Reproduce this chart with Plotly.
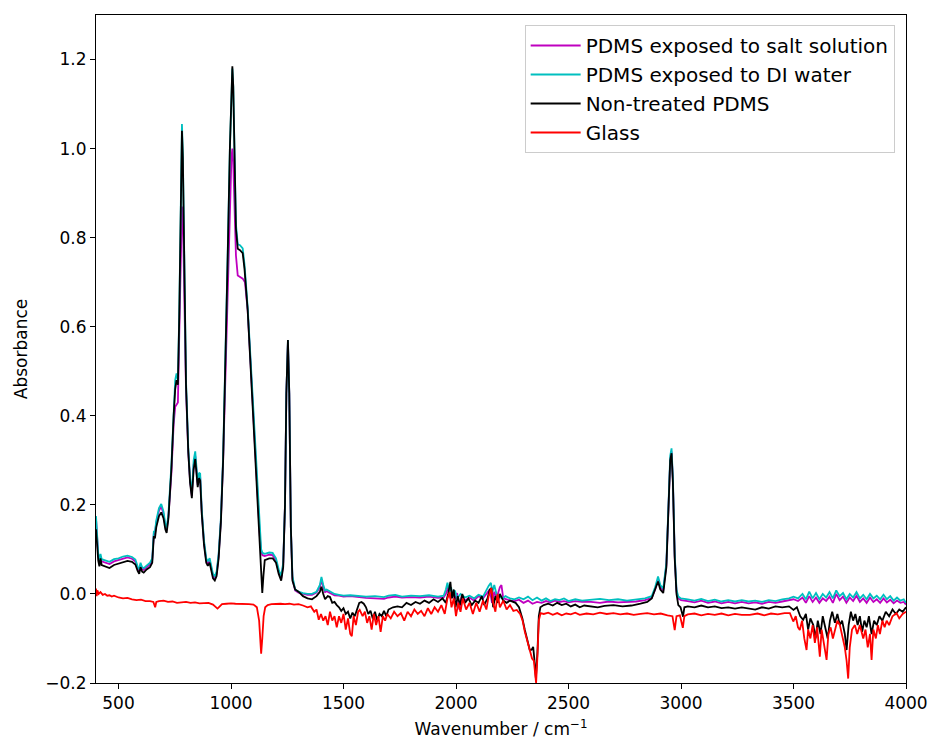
import plotly.graph_objects as go

# ---------------- data ----------------
salt_x = [400,405,410,415,420,425,440,460,480,500,520,540,560,575,585,592,598,605,612,625,640,650,657,662,668,680,690,700,708,714,722,735,745,752,758,764,770,776,782,786,792,800,810,818,826,834,841,847,852,858,863,870,880,890,897,905,912,920,928,936,945,955,965,975,985,995,1002,1006,1010,1015,1022,1030,1040,1052,1062,1074,1090,1105,1120,1128,1134,1140,1150,1170,1185,1200,1212,1223,1232,1240,1246,1253,1259,1266,1273,1285,1300,1320,1340,1360,1380,1395,1402,1410,1418,1425,1440,1460,1480,1500,1530,1560,1600,1640,1680,1700,1730,1760,1800,1840,1880,1920,1945,1955,1965,1975,1985,1995,2005,2015,2025,2040,2060,2080,2100,2120,2135,2150,2160,2170,2180,2195,2202,2210,2225,2240,2260,2280,2300,2320,2340,2360,2380,2400,2420,2440,2460,2480,2500,2530,2560,2600,2640,2680,2720,2760,2800,2840,2870,2885,2898,2908,2921,2935,2945,2952,2958,2964,2972,2980,2988,3000,3030,3060,3090,3120,3150,3180,3210,3240,3270,3300,3330,3360,3390,3420,3450,3480,3500,3520,3540,3555,3570,3585,3600,3615,3630,3645,3660,3675,3690,3705,3720,3735,3750,3765,3780,3795,3810,3825,3840,3855,3870,3885,3900,3915,3930,3945,3960,3975,3990,4000]
salt_y = [0.17,0.115,0.085,0.07,0.085,0.073,0.07,0.067,0.073,0.076,0.08,0.082,0.079,0.073,0.058,0.051,0.066,0.056,0.054,0.06,0.066,0.076,0.135,0.135,0.16,0.187,0.196,0.18,0.152,0.143,0.175,0.27,0.38,0.42,0.425,0.43,0.58,0.78,0.87,0.85,0.68,0.46,0.32,0.255,0.22,0.29,0.31,0.268,0.245,0.265,0.262,0.185,0.115,0.075,0.068,0.075,0.06,0.04,0.035,0.045,0.085,0.165,0.3,0.48,0.7,0.9,0.98,1.0,0.97,0.88,0.76,0.715,0.712,0.708,0.7,0.638,0.49,0.342,0.195,0.13,0.095,0.087,0.085,0.088,0.087,0.075,0.05,0.035,0.065,0.2,0.45,0.565,0.45,0.15,0.035,0.008,0.003,0.0,-0.002,-0.002,0.003,0.015,0.032,0.015,0.004,0.006,0.002,-0.003,-0.004,-0.006,-0.005,-0.007,-0.009,-0.01,-0.011,-0.008,-0.006,-0.008,-0.007,-0.008,-0.006,-0.009,-0.008,0.0,0.015,-0.01,0.005,-0.012,0.002,-0.035,-0.005,-0.015,-0.008,-0.015,-0.005,-0.01,0.0,0.01,-0.02,0.005,-0.01,0.015,0.02,-0.01,-0.012,-0.015,-0.016,-0.013,-0.02,-0.015,-0.022,-0.018,-0.02,-0.016,-0.019,-0.015,-0.018,-0.016,-0.019,-0.016,-0.018,-0.018,-0.02,-0.017,-0.019,-0.018,-0.017,-0.014,-0.009,0.01,0.033,0.015,0.008,0.065,0.2,0.3,0.32,0.255,0.085,0.005,-0.01,-0.014,-0.016,-0.019,-0.015,-0.02,-0.017,-0.021,-0.018,-0.021,-0.018,-0.021,-0.019,-0.022,-0.018,-0.02,-0.017,-0.015,-0.012,-0.016,-0.008,-0.02,-0.005,-0.018,-0.008,-0.02,-0.01,-0.016,-0.006,-0.02,0.0,-0.014,-0.006,-0.02,-0.008,-0.016,-0.004,-0.018,-0.01,-0.02,-0.008,-0.018,-0.012,-0.02,-0.01,-0.019,-0.013,-0.021,-0.015,-0.02,-0.018,-0.024]

di_x = [400,405,410,415,420,425,440,460,480,500,520,540,560,575,585,592,598,605,612,625,640,650,657,662,668,680,690,700,708,714,722,735,745,752,758,764,770,776,782,786,792,800,810,818,826,834,841,847,852,858,863,870,880,890,897,905,912,920,928,936,945,955,965,975,985,995,1002,1006,1010,1015,1022,1030,1040,1052,1060,1074,1090,1105,1120,1128,1134,1140,1150,1170,1185,1200,1212,1223,1232,1240,1246,1253,1259,1266,1273,1285,1300,1320,1340,1360,1380,1395,1402,1410,1418,1425,1440,1460,1480,1500,1530,1560,1600,1640,1680,1700,1730,1760,1800,1840,1880,1920,1945,1955,1962,1970,1978,1985,1995,2005,2020,2040,2060,2080,2100,2120,2135,2145,2155,2162,2170,2180,2190,2205,2220,2240,2260,2280,2300,2320,2340,2360,2380,2400,2420,2440,2460,2480,2500,2530,2560,2600,2640,2680,2720,2760,2800,2840,2870,2885,2898,2908,2921,2935,2945,2952,2958,2964,2972,2980,2988,3000,3030,3060,3090,3120,3150,3180,3210,3240,3270,3300,3330,3360,3390,3420,3450,3480,3500,3520,3540,3555,3570,3585,3600,3615,3630,3645,3660,3675,3690,3705,3720,3735,3750,3765,3780,3795,3810,3825,3840,3855,3870,3885,3900,3915,3930,3945,3960,3975,3990,4000]
di_y = [0.175,0.12,0.09,0.075,0.09,0.078,0.075,0.072,0.078,0.08,0.084,0.086,0.083,0.077,0.062,0.055,0.07,0.06,0.058,0.064,0.07,0.08,0.14,0.14,0.165,0.193,0.202,0.185,0.157,0.148,0.18,0.29,0.41,0.48,0.495,0.48,0.63,0.89,1.055,0.99,0.73,0.48,0.33,0.26,0.225,0.3,0.32,0.275,0.25,0.272,0.27,0.19,0.12,0.08,0.073,0.08,0.065,0.045,0.04,0.05,0.09,0.17,0.31,0.51,0.76,1.0,1.15,1.18,1.14,1.0,0.83,0.785,0.783,0.776,0.74,0.645,0.495,0.345,0.2,0.14,0.1,0.092,0.09,0.093,0.092,0.08,0.055,0.04,0.07,0.2,0.45,0.57,0.45,0.15,0.04,0.01,0.005,0.002,0.0,0.0,0.005,0.02,0.038,0.02,0.008,0.01,0.005,0.0,-0.002,-0.004,-0.003,-0.005,-0.006,-0.005,-0.007,-0.004,-0.002,-0.006,-0.004,-0.005,-0.003,-0.006,-0.004,0.01,0.025,0.005,0.015,-0.005,0.008,-0.01,0.0,-0.008,-0.004,-0.01,-0.002,-0.006,0.01,0.018,0.025,0.005,0.02,0.0,-0.005,-0.01,-0.005,-0.01,-0.012,-0.008,-0.012,-0.006,-0.014,-0.008,-0.015,-0.01,-0.016,-0.012,-0.014,-0.01,-0.016,-0.012,-0.015,-0.013,-0.011,-0.014,-0.012,-0.015,-0.012,-0.01,-0.005,0.015,0.039,0.02,0.012,0.07,0.21,0.31,0.327,0.26,0.09,0.01,-0.006,-0.01,-0.012,-0.015,-0.011,-0.016,-0.013,-0.017,-0.014,-0.017,-0.014,-0.017,-0.015,-0.018,-0.014,-0.016,-0.012,-0.01,-0.006,-0.01,0.0,-0.012,0.005,-0.01,0.002,-0.012,0.0,-0.008,0.004,-0.01,0.008,-0.005,0.002,-0.012,0.0,-0.008,0.004,-0.01,-0.002,-0.012,0.0,-0.01,-0.004,-0.012,-0.002,-0.012,-0.005,-0.015,-0.008,-0.015,-0.012,-0.02]

pdms_x = [400,405,410,415,420,425,440,460,480,500,520,540,560,575,585,592,598,605,612,625,640,650,657,662,668,680,690,700,708,714,722,735,745,752,758,764,770,776,782,786,792,800,810,818,826,834,841,847,852,858,863,870,880,890,897,905,912,920,928,936,945,955,965,975,985,995,1002,1006,1010,1015,1022,1030,1040,1052,1060,1074,1090,1105,1120,1128,1134,1139,1144,1150,1170,1185,1200,1212,1223,1232,1240,1246,1253,1259,1266,1273,1285,1300,1320,1340,1360,1380,1395,1402,1410,1418,1430,1440,1450,1460,1470,1480,1490,1500,1510,1520,1530,1540,1550,1560,1570,1580,1590,1600,1610,1620,1630,1640,1650,1660,1670,1680,1690,1700,1720,1740,1760,1780,1800,1820,1840,1860,1880,1900,1920,1940,1955,1965,1975,1982,1990,1998,2008,2018,2028,2040,2055,2070,2085,2100,2115,2125,2140,2150,2157,2165,2175,2185,2195,2210,2225,2240,2255,2265,2280,2295,2306,2318,2328,2336,2343,2349,2355,2362,2368,2375,2390,2410,2430,2450,2470,2490,2510,2530,2550,2570,2600,2630,2660,2700,2740,2780,2820,2850,2870,2885,2898,2908,2921,2935,2945,2952,2958,2964,2972,2980,2988,2998,3009,3015,3030,3060,3090,3120,3150,3180,3210,3240,3270,3300,3330,3360,3390,3420,3450,3480,3500,3515,3530,3543,3555,3565,3575,3588,3598,3608,3620,3630,3640,3652,3662,3672,3684,3695,3706,3716,3728,3736,3745,3755,3765,3775,3785,3795,3805,3815,3825,3835,3847,3858,3870,3882,3895,3910,3925,3940,3955,3970,3985,4000]
pdms_y = [0.145,0.1,0.075,0.062,0.08,0.065,0.062,0.058,0.065,0.068,0.072,0.074,0.072,0.066,0.052,0.045,0.06,0.05,0.048,0.055,0.06,0.07,0.13,0.125,0.15,0.175,0.183,0.17,0.145,0.137,0.17,0.28,0.4,0.46,0.48,0.47,0.62,0.88,1.04,0.98,0.72,0.47,0.32,0.25,0.215,0.28,0.303,0.26,0.24,0.26,0.255,0.18,0.11,0.07,0.063,0.07,0.055,0.035,0.03,0.04,0.08,0.16,0.3,0.5,0.75,1.0,1.15,1.185,1.14,0.98,0.82,0.775,0.772,0.765,0.73,0.638,0.488,0.34,0.19,0.12,0.05,0.002,0.04,0.076,0.08,0.08,0.07,0.045,0.03,0.06,0.2,0.45,0.57,0.45,0.15,0.03,0.01,0.005,-0.005,-0.01,-0.012,-0.005,0.005,0.016,0.0,-0.012,-0.005,-0.007,-0.02,-0.018,-0.025,-0.03,-0.038,-0.032,-0.045,-0.04,-0.055,-0.042,-0.05,-0.035,-0.02,-0.018,-0.022,-0.03,-0.045,-0.038,-0.055,-0.04,-0.06,-0.045,-0.05,-0.038,-0.05,-0.035,-0.03,-0.028,-0.03,-0.02,-0.025,-0.018,-0.022,-0.015,-0.02,-0.012,-0.018,-0.01,-0.02,0.0,0.027,-0.01,0.01,-0.03,-0.005,-0.025,0.0,-0.02,-0.01,-0.025,-0.015,-0.02,-0.005,-0.025,-0.01,0.01,0.013,-0.03,-0.005,-0.02,0.0,-0.015,-0.02,-0.015,-0.018,-0.02,-0.03,-0.055,-0.081,-0.105,-0.126,-0.125,-0.119,-0.15,-0.19,-0.13,-0.05,-0.03,-0.025,-0.022,-0.026,-0.02,-0.025,-0.022,-0.028,-0.024,-0.03,-0.026,-0.028,-0.03,-0.027,-0.025,-0.028,-0.026,-0.022,-0.018,-0.01,0.01,0.028,0.01,0.002,0.06,0.2,0.3,0.316,0.25,0.08,0.0,-0.025,-0.03,-0.051,-0.03,-0.028,-0.03,-0.026,-0.03,-0.028,-0.032,-0.03,-0.033,-0.03,-0.032,-0.035,-0.03,-0.033,-0.028,-0.03,-0.028,-0.036,-0.03,-0.05,-0.058,-0.045,-0.08,-0.055,-0.07,-0.1,-0.06,-0.09,-0.05,-0.075,-0.1,-0.06,-0.04,-0.065,-0.045,-0.07,-0.06,-0.09,-0.126,-0.07,-0.04,-0.06,-0.045,-0.07,-0.05,-0.085,-0.06,-0.075,-0.05,-0.09,-0.06,-0.07,-0.05,-0.06,-0.04,-0.05,-0.035,-0.045,-0.035,-0.04,-0.03]

glass_x = [400,403,406,412,420,430,440,450,460,470,480,500,520,540,560,580,600,620,640,655,663,668,680,700,720,740,760,780,800,820,840,860,880,900,920,932,940,950,960,980,1000,1020,1040,1060,1080,1100,1115,1125,1130,1134,1139,1145,1152,1163,1180,1200,1220,1240,1260,1280,1300,1320,1340,1355,1370,1380,1390,1400,1410,1420,1430,1440,1450,1460,1470,1480,1490,1500,1510,1520,1530,1537,1545,1555,1565,1572,1585,1595,1605,1615,1625,1635,1645,1655,1665,1675,1685,1695,1710,1725,1740,1755,1770,1785,1800,1815,1830,1845,1860,1875,1890,1905,1920,1935,1950,1962,1972,1980,1990,2000,2010,2020,2030,2045,2060,2075,2090,2105,2120,2135,2145,2157,2165,2175,2185,2195,2210,2225,2240,2255,2270,2285,2296,2306,2318,2328,2338,2346,2352,2356,2362,2368,2376,2390,2410,2430,2450,2470,2490,2510,2530,2550,2580,2610,2640,2670,2700,2730,2760,2790,2820,2850,2880,2910,2940,2962,2972,2980,2995,3008,3015,3030,3060,3090,3120,3150,3180,3210,3240,3270,3306,3340,3370,3400,3430,3460,3484,3499,3510,3520,3528,3538,3548,3558,3565,3575,3585,3595,3605,3617,3625,3635,3647,3655,3665,3675,3684,3695,3706,3716,3728,3736,3743,3750,3760,3773,3783,3795,3810,3820,3830,3840,3847,3855,3866,3875,3884,3895,3905,3914,3925,3940,3958,3970,3985,4000]
glass_y = [0.012,-0.005,0.008,0.0,0.004,-0.002,0.0,-0.004,-0.003,-0.006,-0.004,-0.008,-0.01,-0.009,-0.012,-0.014,-0.013,-0.016,-0.016,-0.018,-0.03,-0.018,-0.016,-0.015,-0.018,-0.017,-0.02,-0.019,-0.018,-0.02,-0.019,-0.021,-0.02,-0.02,-0.024,-0.03,-0.033,-0.028,-0.023,-0.022,-0.021,-0.022,-0.022,-0.023,-0.023,-0.024,-0.03,-0.06,-0.1,-0.134,-0.1,-0.05,-0.03,-0.025,-0.023,-0.022,-0.022,-0.023,-0.022,-0.024,-0.023,-0.026,-0.03,-0.028,-0.04,-0.035,-0.058,-0.045,-0.06,-0.05,-0.07,-0.04,-0.06,-0.05,-0.075,-0.05,-0.065,-0.045,-0.08,-0.055,-0.09,-0.095,-0.05,-0.07,-0.04,-0.036,-0.05,-0.04,-0.065,-0.05,-0.08,-0.045,-0.07,-0.05,-0.085,-0.05,-0.06,-0.045,-0.055,-0.04,-0.05,-0.043,-0.06,-0.04,-0.05,-0.035,-0.045,-0.038,-0.05,-0.032,-0.045,-0.03,-0.04,-0.025,-0.045,-0.01,0.004,-0.03,-0.01,-0.05,-0.02,-0.04,-0.01,-0.035,-0.02,-0.045,-0.02,-0.04,-0.015,-0.035,-0.005,0.013,-0.02,-0.04,0.0,-0.03,-0.015,-0.035,-0.025,-0.038,-0.036,-0.045,-0.06,-0.085,-0.11,-0.13,-0.145,-0.15,-0.19,-0.2,-0.14,-0.06,-0.043,-0.045,-0.042,-0.047,-0.043,-0.048,-0.044,-0.046,-0.042,-0.047,-0.044,-0.046,-0.042,-0.045,-0.043,-0.046,-0.044,-0.047,-0.045,-0.043,-0.046,-0.044,-0.048,-0.05,-0.081,-0.05,-0.048,-0.076,-0.05,-0.046,-0.044,-0.048,-0.045,-0.047,-0.044,-0.048,-0.045,-0.047,-0.047,-0.044,-0.048,-0.044,-0.046,-0.043,-0.043,-0.062,-0.05,-0.075,-0.081,-0.06,-0.1,-0.126,-0.08,-0.1,-0.07,-0.11,-0.075,-0.141,-0.08,-0.11,-0.148,-0.09,-0.075,-0.1,-0.081,-0.06,-0.07,-0.09,-0.12,-0.15,-0.19,-0.12,-0.08,-0.07,-0.09,-0.07,-0.1,-0.08,-0.12,-0.09,-0.148,-0.08,-0.1,-0.07,-0.09,-0.06,-0.075,-0.06,-0.07,-0.05,-0.043,-0.055,-0.045,-0.04]

series_names = ["PDMS exposed to salt solution", "PDMS exposed to DI water", "Non-treated PDMS", "Glass"]
series_colors = ["#bf00bf", "#00bfbf", "#000000", "#ff0000"]
x_ticks = [500, 1000, 1500, 2000, 2500, 3000, 3500, 4000]
y_ticks = [-0.2, 0.0, 0.2, 0.4, 0.6, 0.8, 1.0, 1.2]

# ---------------- figure ----------------
fig = go.Figure()
for name, xs, ys, col in zip(series_names,
                             [salt_x, di_x, pdms_x, glass_x],
                             [salt_y, di_y, pdms_y, glass_y],
                             series_colors):
    fig.add_trace(go.Scatter(x=xs, y=ys, mode="lines", name=name,
                             line=dict(color=col, width=1.8)))

axis_common = dict(showgrid=False, zeroline=False, showline=True, linecolor="black",
                   linewidth=1, mirror=True, ticks="outside", ticklen=5, tickwidth=1,
                   tickcolor="black", automargin=False,
                   tickfont=dict(family="DejaVu Sans", size=17, color="black"))

fig.update_xaxes(range=[400, 4000], tickvals=x_ticks, ticktext=[str(v) for v in x_ticks],
                 title=dict(text="Wavenumber / cm<sup>−1</sup>", font=dict(family="DejaVu Sans", size=17, color="black"), standoff=10),
                 **axis_common)
fig.update_yaxes(range=[-0.2, 1.3], tickvals=y_ticks,
                 ticktext=[("−" if v < 0 else "") + f"{abs(v):.1f}" for v in y_ticks],
                 title=dict(text="Absorbance", font=dict(family="DejaVu Sans", size=17, color="black"), standoff=13),
                 **axis_common)

fig.update_layout(
    width=935, height=742,
    margin=dict(l=96, r=29, t=15, b=59),
    plot_bgcolor="white", paper_bgcolor="white",
    font=dict(family="DejaVu Sans", color="black"),
    legend=dict(x=0.986, xanchor="right", y=0.985, yanchor="top",
                bgcolor="rgba(255,255,255,0.8)", bordercolor="#cccccc", borderwidth=1,
                font=dict(family="DejaVu Sans", size=20, color="black"),
                itemwidth=50, tracegroupgap=0),
    showlegend=True,
)

fig.write_html("out.html")
